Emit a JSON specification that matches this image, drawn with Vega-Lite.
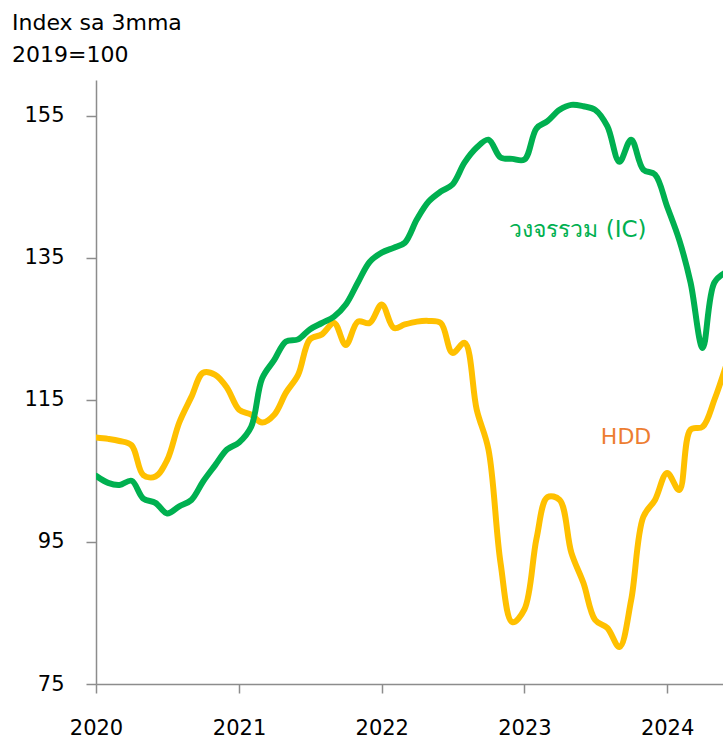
{
  "$schema": "https://vega.github.io/schema/vega-lite/v6.json",
  "width": 627,
  "height": 604,
  "autosize": {"type": "none"},
  "padding": {"left": 96, "top": 80, "right": 0, "bottom": 57},
  "background": "white",
  "config": {"view": {"stroke": null}, "font": "DejaVu Sans"},
  "title": {
    "text": ["Index sa 3mma", "2019=100"],
    "anchor": "start",
    "frame": "group",
    "dx": -84,
    "offset": 13,
    "fontSize": 22,
    "fontWeight": "normal",
    "font": "DejaVu Sans",
    "color": "#000000",
    "lineHeight": 32
  },
  "data": {
    "values": [
      {"date": "2020-01-01", "IC": 104.3, "HDD": 109.7},
      {"date": "2020-02-01", "IC": 103.3, "HDD": 109.5},
      {"date": "2020-03-01", "IC": 103.0, "HDD": 109.2},
      {"date": "2020-04-01", "IC": 103.6, "HDD": 108.6},
      {"date": "2020-05-01", "IC": 101.1, "HDD": 104.4},
      {"date": "2020-06-01", "IC": 100.5, "HDD": 104.2},
      {"date": "2020-07-01", "IC": 99.0, "HDD": 106.5},
      {"date": "2020-08-01", "IC": 100.0, "HDD": 111.8},
      {"date": "2020-09-01", "IC": 100.9, "HDD": 115.4},
      {"date": "2020-10-01", "IC": 103.5, "HDD": 118.8},
      {"date": "2020-11-01", "IC": 105.8, "HDD": 118.5},
      {"date": "2020-12-01", "IC": 108.0, "HDD": 116.7},
      {"date": "2021-01-01", "IC": 109.0, "HDD": 113.6},
      {"date": "2021-02-01", "IC": 111.2, "HDD": 112.9},
      {"date": "2021-03-01", "IC": 118.0, "HDD": 111.8},
      {"date": "2021-04-01", "IC": 120.6, "HDD": 112.9},
      {"date": "2021-05-01", "IC": 123.2, "HDD": 116.0},
      {"date": "2021-06-01", "IC": 123.5, "HDD": 118.5},
      {"date": "2021-07-01", "IC": 124.9, "HDD": 123.5},
      {"date": "2021-08-01", "IC": 125.8, "HDD": 124.2},
      {"date": "2021-09-01", "IC": 126.7, "HDD": 125.8},
      {"date": "2021-10-01", "IC": 128.4, "HDD": 122.7},
      {"date": "2021-11-01", "IC": 131.5, "HDD": 126.0},
      {"date": "2021-12-01", "IC": 134.4, "HDD": 125.8},
      {"date": "2022-01-01", "IC": 135.7, "HDD": 128.4},
      {"date": "2022-02-01", "IC": 136.4, "HDD": 125.1},
      {"date": "2022-03-01", "IC": 137.1, "HDD": 125.6},
      {"date": "2022-04-01", "IC": 140.4, "HDD": 126.0},
      {"date": "2022-05-01", "IC": 142.9, "HDD": 126.1},
      {"date": "2022-06-01", "IC": 144.3, "HDD": 125.8},
      {"date": "2022-07-01", "IC": 145.3, "HDD": 121.6},
      {"date": "2022-08-01", "IC": 148.4, "HDD": 123.0},
      {"date": "2022-09-01", "IC": 150.5, "HDD": 113.6},
      {"date": "2022-10-01", "IC": 151.6, "HDD": 108.0},
      {"date": "2022-11-01", "IC": 149.1, "HDD": 92.0},
      {"date": "2022-12-01", "IC": 148.9, "HDD": 83.7},
      {"date": "2023-01-01", "IC": 148.8, "HDD": 85.5},
      {"date": "2023-02-01", "IC": 153.2, "HDD": 95.5},
      {"date": "2023-03-01", "IC": 154.2, "HDD": 101.3},
      {"date": "2023-04-01", "IC": 155.8, "HDD": 100.9},
      {"date": "2023-05-01", "IC": 156.5, "HDD": 93.5},
      {"date": "2023-06-01", "IC": 156.3, "HDD": 89.2},
      {"date": "2023-07-01", "IC": 155.8, "HDD": 84.0},
      {"date": "2023-08-01", "IC": 153.5, "HDD": 82.9},
      {"date": "2023-09-01", "IC": 148.5, "HDD": 80.2},
      {"date": "2023-10-01", "IC": 151.6, "HDD": 86.8},
      {"date": "2023-11-01", "IC": 147.4, "HDD": 98.5},
      {"date": "2023-12-01", "IC": 146.7, "HDD": 100.9},
      {"date": "2024-01-01", "IC": 142.2, "HDD": 104.7},
      {"date": "2024-02-01", "IC": 137.5, "HDD": 102.3},
      {"date": "2024-03-01", "IC": 131.5, "HDD": 110.8},
      {"date": "2024-04-01", "IC": 122.3, "HDD": 111.2},
      {"date": "2024-05-01", "IC": 131.5, "HDD": 115.0},
      {"date": "2024-06-01", "IC": 133.0, "HDD": 120.0}
    ]
  },
  "encoding": {
    "x": {
      "field": "date",
      "type": "temporal",
      "title": null,
      "scale": {
        "type": "utc",
        "domain": [
          {"year": 2020, "month": 1, "date": 1, "utc": true},
          {"year": 2024, "month": 5, "date": 23, "utc": true}
        ]
      },
      "axis": {
        "values": [
          {"year": 2020, "month": 1, "date": 1, "utc": true},
          {"year": 2021, "month": 1, "date": 1, "utc": true},
          {"year": 2022, "month": 1, "date": 1, "utc": true},
          {"year": 2023, "month": 1, "date": 1, "utc": true},
          {"year": 2024, "month": 1, "date": 1, "utc": true}
        ],
        "format": "%Y",
        "grid": false,
        "domainColor": "#8c8c8c",
        "domainWidth": 1.5,
        "tickColor": "#8c8c8c",
        "tickWidth": 1.5,
        "tickSize": 9,
        "labelFontSize": 21,
        "labelFont": "DejaVu Sans",
        "labelColor": "#000000",
        "labelPadding": 24,
        "labelFlush": false,
        "labelOverlap": false
      }
    }
  },
  "layer": [
    {
      "mark": {"type": "line", "color": "#FFC000", "strokeWidth": 6, "interpolate": "catmull-rom", "clip": true, "strokeCap": "round"},
      "encoding": {
        "y": {
          "field": "HDD",
          "type": "quantitative",
          "title": null,
          "scale": {"domain": [75, 160], "nice": false, "zero": false},
          "axis": {
            "values": [75, 95, 115, 135, 155],
            "grid": false,
            "domainColor": "#8c8c8c",
            "domainWidth": 1.5,
            "tickColor": "#8c8c8c",
            "tickWidth": 1.5,
            "tickSize": 10,
            "labelFontSize": 21,
            "labelFont": "DejaVu Sans",
            "labelColor": "#000000",
            "labelPadding": 22,
            "labelOverlap": false
          }
        }
      }
    },
    {
      "mark": {"type": "line", "color": "#00B050", "strokeWidth": 6, "interpolate": "catmull-rom", "clip": true, "strokeCap": "round"},
      "encoding": {
        "y": {"field": "IC", "type": "quantitative"}
      }
    },
    {
      "data": {"values": [{"date": "2023-05-18", "value": 138.9, "label": "วงจรรวม (IC)"}]},
      "mark": {"type": "text", "color": "#00B050", "fontSize": 23, "align": "center", "baseline": "middle"},
      "encoding": {
        "y": {"field": "value", "type": "quantitative"},
        "text": {"field": "label"}
      }
    },
    {
      "data": {"values": [{"date": "2023-09-18", "value": 109.8, "label": "HDD"}]},
      "mark": {"type": "text", "color": "#ED7D31", "fontSize": 22, "align": "center", "baseline": "middle"},
      "encoding": {
        "y": {"field": "value", "type": "quantitative"},
        "text": {"field": "label"}
      }
    }
  ]
}
